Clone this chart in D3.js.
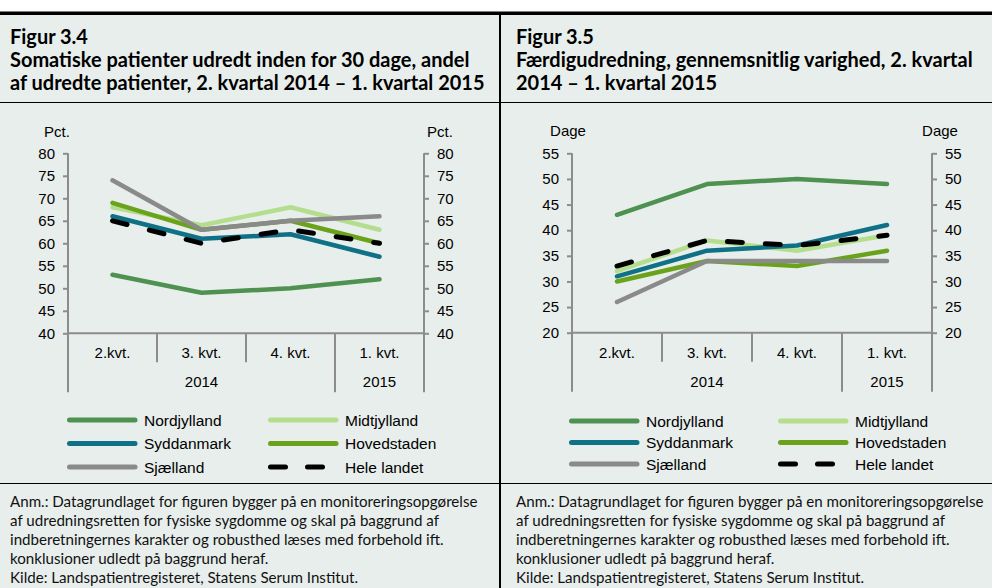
<!DOCTYPE html>
<html><head><meta charset="utf-8">
<script src="https://cdn.jsdelivr.net/npm/d3@7"></script>
<style>html,body{margin:0;padding:0;background:#fff;} svg{display:block;}</style>
</head><body><svg id="c" width="992" height="588"></svg>
<script>
// ---------- DATA ----------
const categories = ["2.kvt.", "3. kvt.", "4. kvt.", "1. kvt."];
const yearLabels = ["2014", "2015"];
const yearSpans = [3, 1];
const regionNames = ["Nordjylland", "Midtjylland", "Syddanmark", "Hovedstaden", "Sjælland", "Hele landet"];

// Figur 3.4 – andel udredt inden for 30 dage (pct.)
const pctNordjylland = [53, 49, 50, 52];
const pctMidtjylland = [68, 64, 68, 63];
const pctSyddanmark  = [66, 61, 62, 57];
const pctHovedstaden = [69, 63, 65, 60];
const pctSjaelland   = [74, 63, 65, 66];
const pctHeleLandet  = [65, 60, 63, 60];
const pctTicks = [40, 45, 50, 55, 60, 65, 70, 75, 80];

// Figur 3.5 – færdigudredning, gennemsnitlig varighed (dage)
const dageNordjylland = [43, 49, 50, 49];
const dageMidtjylland = [32, 38, 36, 39];
const dageSyddanmark  = [31, 36, 37, 41];
const dageHovedstaden = [30, 34, 33, 36];
const dageSjaelland   = [26, 34, 34, 34];
const dageHeleLandet  = [33, 38, 37, 39];
const dageTicks = [20, 25, 30, 35, 40, 45, 50, 55];

const titleLeft = ["Figur 3.4", "Somatiske patienter udredt inden for 30 dage, andel", "af udredte patienter, 2. kvartal 2014 – 1. kvartal 2015"];
const titleRight = ["Figur 3.5", "Færdigudredning, gennemsnitlig varighed, 2. kvartal", "2014 – 1. kvartal 2015"];
const noteLines = [
  "Anm.: Datagrundlaget for figuren bygger på en monitoreringsopgørelse",
  "af udredningsretten for fysiske sygdomme og skal på baggrund af",
  "indberetningernes karakter og robusthed læses med forbehold ift.",
  "konklusioner udledt på baggrund heraf.",
  "Kilde: Landspatientregisteret, Statens Serum Institut."
];

// ---------- STYLE ----------
const colors = ["#4f9150", "#b4de8e", "#0f7186", "#6aa31b", "#8a8a8a", "#000000"];
const axisColor = "#8c8c8c";
const bg = "#e8eeec";
const chartFont = "'Liberation Sans', Arial, sans-serif";
const textFont = "Lato, 'Open Sans', sans-serif";

const svg = d3.select("#c");
svg.append("rect").attr("x", 0).attr("y", 14).attr("width", 992).attr("height", 574).attr("fill", bg);
svg.append("rect").attr("x", 0).attr("y", 11.5).attr("width", 992).attr("height", 3.5).attr("fill", "#000");
svg.append("line").attr("x1", 0).attr("x2", 992).attr("y1", 102.5).attr("y2", 102.5).attr("stroke", "#000").attr("stroke-width", 1);
svg.append("line").attr("x1", 0).attr("x2", 992).attr("y1", 483.5).attr("y2", 483.5).attr("stroke", "#000").attr("stroke-width", 1);
svg.append("line").attr("x1", 500).attr("x2", 500).attr("y1", 15).attr("y2", 588).attr("stroke", "#000").attr("stroke-width", 2);

const panels = [
  { textX: 10, title: titleLeft, axL: 68, axR: 424, yTop: 153.3, yBot: 333.3, domain: [40, 80], ticks: pctTicks,
    unit: "Pct.", unitL: 57, unitR: 440, unitY: 137,
    series: [pctNordjylland, pctMidtjylland, pctSyddanmark, pctHovedstaden, pctSjaelland, pctHeleLandet],
    legCols: [67, 268], legRows: [420, 443.5, 467] },
  { textX: 516, title: titleRight, axL: 572, axR: 932, yTop: 153.3, yBot: 332.7, domain: [20, 55], ticks: dageTicks,
    unit: "Dage", unitL: 568, unitR: 940, unitY: 136,
    series: [dageNordjylland, dageMidtjylland, dageSyddanmark, dageHovedstaden, dageSjaelland, dageHeleLandet],
    legCols: [569, 778], legRows: [421, 442.5, 464] }
];

const titleTexts = [], noteTexts = [];

panels.forEach((p, pi) => {
  const g = svg.append("g");
  // titles
  p.title.forEach((t, i) => {
    titleTexts.push(g.append("text").attr("x", p.textX).attr("y", 44 + i * 23)
      .attr("font-family", textFont).attr("font-weight", 700).attr("font-size", 17).attr("fill", "#000").text(t));
  });
  // notes
  noteLines.forEach((t, i) => {
    noteTexts.push(g.append("text").attr("x", p.textX).attr("y", 507 + i * 19.1)
      .attr("font-family", textFont).attr("font-size", 14).attr("fill", "#111").text(t));
  });

  const x = d3.scaleBand().domain(categories).range([p.axL, p.axR]).padding(0);
  const y = d3.scaleLinear().domain(p.domain).range([p.yBot, p.yTop]);
  const cx = c => x(c) + x.bandwidth() / 2;

  // y axes
  const axL = d3.axisLeft(y).tickValues(p.ticks).tickSize(5).tickPadding(8).tickSizeOuter(0);
  const axR = d3.axisRight(y).tickValues(p.ticks).tickSize(5).tickPadding(8).tickSizeOuter(0);
  [[axL, p.axL], [axR, p.axR]].forEach(([ax, xp]) => {
    const ga = g.append("g").attr("transform", `translate(${xp},0)`).call(ax);
    ga.select(".domain").remove();
    ga.selectAll(".tick line").attr("stroke", axisColor).attr("stroke-width", 2);
    ga.selectAll(".tick text").attr("font-family", chartFont).attr("font-size", 15).attr("fill", "#000");
    g.append("line").attr("x1", xp).attr("x2", xp).attr("y1", p.yTop).attr("y2", p.yBot + 59)
      .attr("stroke", axisColor).attr("stroke-width", 2);
  });
  // x axis line
  g.append("line").attr("x1", p.axL).attr("x2", p.axR).attr("y1", p.yBot).attr("y2", p.yBot)
    .attr("stroke", axisColor).attr("stroke-width", 2);
  // category dividers
  let cum = 0;
  const yearBounds = yearSpans.map(s => (cum += s));
  categories.forEach((c, i) => {
    if (i === 0) return;
    const long = yearBounds.includes(i);
    g.append("line").attr("x1", x(c)).attr("x2", x(c)).attr("y1", p.yBot).attr("y2", p.yBot + (long ? 59 : 29))
      .attr("stroke", axisColor).attr("stroke-width", 2);
  });
  // category labels
  categories.forEach(c => {
    g.append("text").attr("x", cx(c)).attr("y", p.yBot + 25).attr("text-anchor", "middle")
      .attr("font-family", chartFont).attr("font-size", 15).attr("fill", "#000").text(c);
  });
  // year labels
  let start = 0;
  yearLabels.forEach((yl, i) => {
    const a = x(categories[start]);
    const b = x(categories[start + yearSpans[i] - 1]) + x.bandwidth();
    g.append("text").attr("x", (a + b) / 2).attr("y", p.yBot + 54).attr("text-anchor", "middle")
      .attr("font-family", chartFont).attr("font-size", 15).attr("fill", "#000").text(yl);
    start += yearSpans[i];
  });
  // unit labels
  [p.unitL, p.unitR].forEach(ux => {
    g.append("text").attr("x", ux).attr("y", p.unitY).attr("text-anchor", "middle")
      .attr("font-family", chartFont).attr("font-size", 15).attr("fill", "#000").text(p.unit);
  });

  // lines
  const line = d3.line().x((d, i) => cx(categories[i])).y(d => y(d));
  p.series.forEach((vals, si) => {
    const dashed = si === 5;
    g.append("path").datum(vals).attr("d", line).attr("fill", "none")
      .attr("stroke", colors[si]).attr("stroke-width", dashed ? 5 : 4.5)
      .attr("stroke-linejoin", "round").attr("stroke-linecap", "round")
      .attr("stroke-dasharray", dashed ? "15,23" : null);
  });

  // legend
  regionNames.forEach((name, si) => {
    const col = si % 2, row = Math.floor(si / 2);
    const lx = p.legCols[col], ly = p.legRows[row];
    const dashed = si === 5;
    g.append("line").attr("x1", lx + 2.5).attr("x2", lx + 68).attr("y1", ly).attr("y2", ly)
      .attr("stroke", colors[si]).attr("stroke-width", 5).attr("stroke-linecap", "round")
      .attr("stroke-dasharray", dashed ? "15,22" : null);
    g.append("text").attr("x", lx + 77).attr("y", ly + 5.5)
      .attr("font-family", chartFont).attr("font-size", 15.5).attr("fill", "#000").text(name);
  });
});

// fit title / note fonts to the reference line widths
const tScale = 475 / titleTexts[2].node().getComputedTextLength();
titleTexts.forEach(t => t.attr("font-size", 17 * tScale));
const nScale = 468 / noteTexts[0].node().getComputedTextLength();
noteTexts.forEach(t => t.attr("font-size", 14 * nScale));
</script>
</body></html>
